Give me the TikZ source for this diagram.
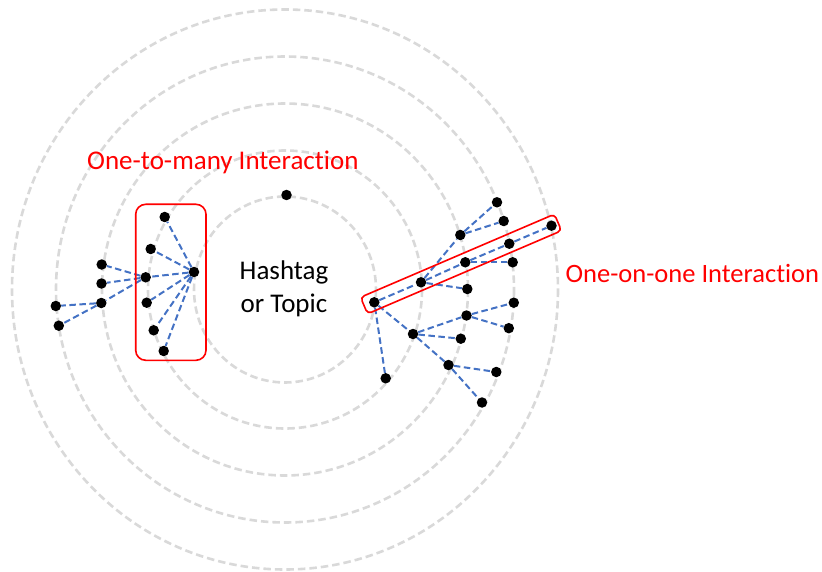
\documentclass[tikz,border=0pt]{standalone}
\usepackage{fontspec}
\setmainfont[Ligatures=CommonOff]{Carlito}
\definecolor{ringgrey}{HTML}{D9D9D9}
\definecolor{linkblue}{HTML}{4472C4}
\definecolor{markred}{HTML}{FF0000}
\tikzset{
  ring/.style={draw=ringgrey, line width=2.6pt, dash pattern=on 7.5pt off 4pt},
  dot/.style={circle, fill=black, inner sep=0pt, minimum size=10.5pt},
  link/.style={draw=linkblue, line width=2pt, dash pattern=on 6.5pt off 3.5pt},
  redlabel/.style={text=markred, font=\fontsize{27}{32}\selectfont, inner sep=0pt, anchor=base west},
  centrelabel/.style={text=black, font=\fontsize{27}{32}\selectfont, inner sep=0pt, anchor=base},
  groupbox/.style={draw=markred, line width=1.6pt}
}
\begin{document}
\begin{tikzpicture}[x=1pt, y=-1pt]
\useasboundingbox (0,0) rectangle (822,572);

% concentric rings around the topic
\foreach \rx/\ry in {91/93, 137/139, 183/186, 229/233, 273/280}
  \draw[ring] (285,289.5) ellipse [x radius=\rx, y radius=\ry];

% centre label
\node[centrelabel] (topic1) at (284,279.3) {Hashtag};
\node[centrelabel] (topic2) at (284,312.7) {or Topic};

% lone user on the first ring
\node[dot] (lone) at (286.5,195) {};

% ---- one-to-many group (left) ----
\node[dot] (hub) at (194,272) {};
\node[dot] (m1) at (164.7,217) {};
\node[dot] (m2) at (150.7,249) {};
\node[dot] (m3) at (145.7,277.3) {};
\node[dot] (m4) at (146.7,302.7) {};
\node[dot] (m5) at (153.7,330.3) {};
\node[dot] (m6) at (163.7,351) {};
\node[dot] (l1) at (101.7,264.5) {};
\node[dot] (l2) at (101.5,283.5) {};
\node[dot] (l3) at (101.3,303) {};
\node[dot] (o1) at (55.8,306) {};
\node[dot] (o2) at (58.8,325.7) {};

\foreach \t in {m1,m2,m3,m4,m5,m6}
  \draw[link] (hub) -- (\t);
\foreach \t in {l1,l2,l3}
  \draw[link] (m3) -- (\t);
\draw[link] (l3) -- (o1);
\draw[link] (l3) -- (o2);

\node[groupbox, rounded corners=10pt, minimum width=70.3pt, minimum height=156pt, inner sep=0pt]
  (manybox) at (170.85,282.3) {};
\node[redlabel] (manylabel) at (87,170) {One-to-many Interaction};

% ---- one-on-one chain (right) ----
\node[dot] (a) at (374.3,302.3) {};
\node[dot] (b) at (421,282.3) {};
\node[dot] (c) at (465.3,262.3) {};
\node[dot] (d) at (509.3,243.7) {};
\node[dot] (e) at (551.5,225.7) {};
\node[dot] (f) at (460.3,235) {};
\node[dot] (f1) at (497,202.3) {};
\node[dot] (f2) at (503.7,221) {};
\node[dot] (c1) at (512.7,262.3) {};
\node[dot] (b1) at (467.3,289) {};
\node[dot] (g) at (413,334) {};
\node[dot] (a1) at (385.7,378.3) {};
\node[dot] (h) at (466.5,315.5) {};
\node[dot] (h1) at (513.8,302.7) {};
\node[dot] (h2) at (508.8,328.2) {};
\node[dot] (g1) at (460.8,338.7) {};
\node[dot] (i) at (448.5,365) {};
\node[dot] (i1) at (496.3,372) {};
\node[dot] (i2) at (482,402.5) {};

\draw[link] (a) -- (b);
\draw[link] (b) -- (c);
\draw[link] (c) -- (d);
\draw[link] (d) -- (e);
\draw[link] (b) -- (f);
\draw[link] (f) -- (f1);
\draw[link] (f) -- (f2);
\draw[link] (c) -- (c1);
\draw[link] (b) -- (b1);
\draw[link] (a) -- (g);
\draw[link] (a) -- (a1);
\draw[link] (g) -- (h);
\draw[link] (g) -- (g1);
\draw[link] (g) -- (i);
\draw[link] (h) -- (h1);
\draw[link] (h) -- (h2);
\draw[link] (i) -- (i1);
\draw[link] (i) -- (i2);

\node[groupbox, rounded corners=4pt, rotate=23.2, minimum width=211pt, minimum height=18pt, inner sep=0pt]
  (pairbox) at (461,264) {};
\node[redlabel, font=\fontsize{26.5}{32}\selectfont] (pairlabel) at (565.5,282.3) {One-on-one Interaction};
\end{tikzpicture}
\end{document}
